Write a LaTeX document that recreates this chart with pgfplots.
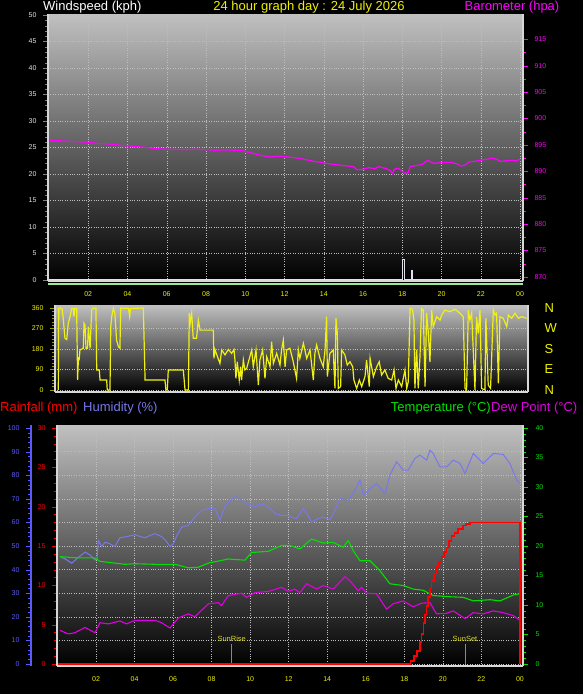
\documentclass[border=0pt]{standalone}
\usepackage{fontspec}
\setmainfont{Liberation Sans}
\usepackage{pgfplots}
\pgfplotsset{compat=1.18}
\definecolor{bgtop}{RGB}{192,192,192}
\definecolor{gridc}{RGB}{190,190,190}
\definecolor{framec}{RGB}{215,215,215}
\definecolor{hum}{RGB}{120,120,235}
\definecolor{humax}{RGB}{90,90,255}
\definecolor{tempc}{RGB}{0,225,0}
\definecolor{dewc}{RGB}{225,0,225}
\definecolor{baro}{RGB}{255,0,255}
\definecolor{ylw}{RGB}{240,240,0}
\definecolor{wdir}{RGB}{240,240,20}
\definecolor{lgreen}{RGB}{150,235,150}
\definecolor{sunc}{RGB}{215,215,40}
\definecolor{windc}{RGB}{225,225,235}
\newcommand{\tf}{\fontsize{7}{8}\selectfont}
\newcommand{\hf}{\fontsize{13}{15}\selectfont}
\pgfplotsset{
 base/.style={scale only axis, anchor=south west,
   axis line style={-, framec, line width=1.2pt},
   tick align=outside, major tick length=5pt, minor tick length=3pt,
   ticklabel style={font=\tf},
   /pgf/number format/assume math mode=true,
   /pgf/number format/1000 sep={}},
 shadebg/.style={axis background/.style={shade, top color=bgtop, bottom color=black}},
 grd/.style={major grid style={gridc, dotted, line width=0.5pt}},
}
\begin{document}
\begin{tikzpicture}[x=1pt,y=1pt]
\useasboundingbox (0,0) rectangle (583,-694);
\fill[black] (0,0) rectangle (583,-694);

% ---------------- top panel: wind speed + barometer
\begin{axis}[base, shadebg, grd, at={(48pt,-281pt)}, width=475pt, height=267pt,
  xmin=-0.05, xmax=24.15, ymin=-0.19, ymax=50.19,
  axis x line*=bottom, axis y line*=left,
  xtick={2,4,...,24}, xticklabels={02,04,06,08,10,12,14,16,18,20,22,00},
  xtick style={draw=none}, xticklabel style={ylw, yshift=-2pt},
  ytick={0,5,...,50}, minor y tick num=4, tick style={gray},
  yticklabel style={windc, xshift=-3pt},
  grid=major]
\addplot[const plot, windc, line width=1pt] coordinates {(0,0)(18.0,0)(18.0,3.8)(18.1,3.8)(18.1,0)(18.45,0)(18.45,1.8)(18.52,1.8)(18.52,0)(24,0)};
\end{axis}
\begin{axis}[base, at={(48pt,-281pt)}, width=475pt, height=267pt,
  xmin=-0.05, xmax=24.15, ymin=869.24, ymax=919.8,
  axis x line=none, axis y line*=right,
  ytick={870,875,...,915}, minor y tick num=1, tick style={baro},
  yticklabel style={baro, xshift=3pt}]
\addplot[baro, line width=1.2pt] coordinates {(0,895.9)(0.5,895.8)(1,895.7)(1.5,895.6)(2,895.5)(2.5,895.3)(3,895.2)(3.5,895.0)(4,894.8)(4.5,894.7)(5,894.5)(5.5,894.3)(6,894.2)(6.5,894.15)(7,894.1)(7.5,894.2)(8,894.1)(8.5,894.0)(9,894.05)(9.5,894.0)(9.8,894.0)(10.2,893.6)(10.6,893.2)(11,892.9)(11.3,892.7)(11.6,892.9)(12,892.8)(12.5,892.6)(13,892.3)(13.5,891.9)(14,891.6)(14.5,891.3)(15,891.1)(15.5,890.9)(15.7,890.3)(16.0,890.4)(16.3,890.7)(16.6,890.5)(16.8,890.9)(17.0,890.7)(17.2,890.5)(17.4,890.1)(17.5,889.6)(17.6,890.4)(17.8,890.6)(18.0,890.0)(18.2,889.6)(18.3,889.8)(18.4,890.9)(18.7,891.1)(19.0,891.3)(19.3,892.1)(19.6,891.5)(19.8,891.6)(20.1,891.7)(20.5,891.7)(20.8,891.4)(21.0,891.0)(21.2,891.2)(21.4,891.8)(21.7,891.9)(22.0,892.1)(22.3,892.3)(22.6,892.5)(22.8,892.3)(23.0,891.9)(23.3,892.0)(23.6,892.1)(23.8,892.0)(24.0,892.3)};
\end{axis}
\fill[lgreen] (48,-282.5) rectangle (523,-285);

% ---------------- middle panel: wind direction
\begin{axis}[base, shadebg, grd, at={(55pt,-392pt)}, width=473pt, height=87pt,
  xmin=-0.17, xmax=24.09, ymin=-8.8, ymax=373.2,
  axis x line*=bottom, axis y line*=left, xtick=\empty,
  ytick={0,90,...,360}, minor y tick num=5, tick style={ylw!65!black},
  yticklabel style={ylw, xshift=-3pt}, ymajorgrids]
\addplot[wdir, line width=1.2pt] coordinates {(0.00,0)(0.02,358)(0.10,360)(0.20,355)(0.26,307)(0.34,227)(0.43,222)(0.51,293)(0.60,322)(0.69,358)(0.78,358)(0.80,322)(0.85,358)(0.94,358)(0.99,44)(1.03,139)(1.07,135)(1.11,176)(1.28,183)(1.32,293)(1.37,285)(1.42,183)(1.50,183)(1.54,278)(1.63,183)(1.71,351)(1.80,360)(1.93,358)(1.97,88)(2.10,88)(2.14,44)(2.48,44)(2.51,0)(2.65,0)(2.69,278)(2.74,322)(2.82,358)(2.90,336)(2.99,219)(3.08,190)(3.16,183)(3.20,360)(3.60,358)(3.66,322)(3.70,358)(4.36,360)(4.45,44)(5.47,44)(5.52,0)(5.59,0)(5.64,88)(6.41,88)(6.50,0)(6.67,0)(6.72,337)(6.76,293)(6.84,337)(6.92,227)(7.09,227)(7.18,307)(7.27,263)(7.95,263)(7.98,139)(8.04,176)(8.21,135)(8.29,117)(8.38,176)(8.55,154)(8.72,178)(8.89,161)(9.01,178)(9.06,132)(9.11,51)(9.18,124)(9.28,44)(9.35,102)(9.40,44)(9.49,132)(9.57,88)(9.66,95)(9.80,139)(9.92,176)(10.00,102)(10.14,176)(10.26,22)(10.34,132)(10.48,176)(10.60,51)(10.69,146)(10.86,102)(10.94,212)(11.03,117)(11.20,161)(11.37,110)(11.45,176)(11.54,219)(11.63,102)(11.71,176)(11.88,183)(12.05,124)(12.22,51)(12.31,176)(12.39,139)(12.57,205)(12.74,139)(12.91,176)(13.08,44)(13.16,161)(13.25,198)(13.42,139)(13.59,102)(13.68,176)(13.76,322)(13.80,59)(13.93,161)(14.10,176)(14.19,7)(14.24,315)(14.31,249)(14.36,7)(14.48,15)(14.53,176)(14.70,154)(14.82,110)(14.96,124)(15.10,102)(15.16,44)(15.30,7)(15.44,44)(15.56,15)(15.73,59)(15.81,132)(15.95,15)(15.99,139)(16.16,59)(16.33,102)(16.46,124)(16.58,66)(16.75,88)(16.92,51)(17.10,44)(17.22,88)(17.32,7)(17.44,44)(17.61,15)(17.78,88)(17.87,7)(17.95,37)(18.04,358)(18.12,358)(18.17,351)(18.24,307)(18.29,7)(18.38,176)(18.46,7)(18.55,146)(18.63,358)(18.72,351)(18.81,15)(18.89,337)(18.98,249)(19.06,124)(19.15,351)(19.23,278)(19.40,322)(19.58,307)(19.66,329)(19.83,351)(20.09,344)(20.34,355)(20.60,337)(20.77,322)(20.86,7)(20.94,0)(21.03,351)(21.11,307)(21.20,337)(21.37,0)(21.45,322)(21.54,249)(21.63,351)(21.71,7)(21.88,0)(21.93,315)(22.05,22)(22.17,7)(22.31,351)(22.40,329)(22.48,337)(22.57,29)(22.65,322)(22.82,315)(23.00,278)(23.08,329)(23.25,315)(23.42,337)(23.60,315)(23.76,322)(24.02,315)};
\end{axis}
\begin{axis}[base, at={(55pt,-392pt)}, width=473pt, height=87pt,
  xmin=-0.17, xmax=24.09, ymin=-8.8, ymax=373.2,
  axis x line=none, axis y line*=right,
  ytick={0,90,180,270,360}, yticklabels={N,E,S,W,N}, tick style={draw=none},
  yticklabel style={ylw, font=\hf, xshift=8pt}]
\end{axis}

% ---------------- bottom panel
\begin{axis}[base, shadebg, grd, at={(57pt,-666pt)}, width=466pt, height=241pt,
  xmin=-0.026, xmax=24.16, ymin=-0.85, ymax=101.27,
  axis x line*=bottom, axis y line*=left,
  xtick={2,4,...,24}, xticklabels={02,04,06,08,10,12,14,16,18,20,22,00},
  xtick style={draw=none}, xticklabel style={ylw, yshift=-2pt},
  ytick={0,10,...,100}, yticklabels={}, ytick style={draw=none},
  grid=major]
\addplot[hum, line width=1pt] coordinates {(0.13,45.5)(0.4,44.5)(0.74,42.7)(1.08,45.2)(1.43,47.4)(1.69,46.2)(1.95,44.1)(2.05,44.5)(2.12,52.3)(2.3,49.8)(2.47,51.6)(2.7,51.0)(2.98,49.8)(3.24,53.5)(3.6,54.0)(4.02,54.8)(4.3,54.0)(4.54,53.5)(4.8,54.5)(5.06,55.2)(5.4,54.0)(5.6,52.5)(5.84,49.8)(6.01,50.9)(6.2,54.5)(6.44,58.0)(6.79,58.7)(7.13,62.3)(7.48,65.1)(7.83,65.8)(8.17,65.8)(8.3,63.5)(8.43,60.9)(8.69,66.8)(9.0,69.5)(9.21,70.8)(9.38,70.5)(9.73,68.0)(10.0,67.5)(10.25,66.5)(10.5,67.8)(10.77,67.2)(11.0,66.0)(11.29,63.7)(11.63,63.0)(11.98,63.0)(12.2,62.0)(12.41,61.6)(12.76,65.8)(13.0,63.0)(13.19,60.1)(13.5,61.5)(13.79,62.3)(14.14,61.1)(14.4,65.0)(14.66,70.1)(15.09,69.4)(15.44,73.6)(15.70,77.9)(15.87,71.5)(16.13,73.6)(16.56,76.5)(17.0,72.2)(17.25,80.0)(17.60,85.7)(17.95,82.1)(18.2,82.1)(18.55,87.1)(18.81,88.5)(19.16,86.4)(19.33,90.6)(19.5,89.2)(19.85,83.5)(20.2,83.5)(20.54,86.4)(20.89,85.0)(21.15,80.7)(21.58,89.2)(22.1,85.0)(22.62,89.2)(23.13,88.8)(23.48,85.0)(23.83,77.9)(24.0,76.5)};
\addplot[sunc!70!black, line width=0.8pt] coordinates {(9.04,0)(9.04,8.5)};
\addplot[sunc!70!black, line width=0.8pt] coordinates {(21.15,0)(21.15,8.5)};
\node[sunc, font=\fontsize{7.5}{8}\selectfont] at (axis cs:9.04,10.8) {SunRise};
\node[sunc, font=\fontsize{7.5}{8}\selectfont] at (axis cs:21.15,10.8) {SunSet};
\end{axis}
\begin{axis}[base, at={(57pt,-666pt)}, width=466pt, height=241pt,
  xmin=-0.026, xmax=24.16, ymin=-0.339, ymax=40.51,
  axis x line=none, axis y line*=right,
  ytick={0,5,...,40}, minor y tick num=4, tick style={tempc},
  yticklabel style={tempc, xshift=4pt}]
\addplot[tempc, line width=1.1pt] coordinates {(0.13,18.2)(1.0,18.0)(1.95,18.0)(2.2,17.4)(2.98,17.1)(3.5,16.9)(4.0,17.0)(5.06,16.9)(6.1,16.9)(6.79,16.3)(7.3,16.4)(7.83,17.1)(8.86,17.8)(9.73,17.6)(10.07,18.9)(10.94,19.1)(11.63,20.1)(12.06,20.1)(12.58,19.5)(13.19,21.2)(13.79,20.5)(14.31,20.6)(14.83,19.8)(15.09,20.9)(15.35,19.2)(15.70,17.5)(16.22,17.5)(16.74,15.8)(17.25,13.6)(17.95,13.3)(18.46,12.7)(18.98,12.5)(19.5,11.6)(20.37,11.4)(21.06,11.3)(21.58,10.7)(22.45,10.9)(22.97,10.7)(23.66,11.7)(24.0,11.9)};
\addplot[dewc, line width=1.1pt] coordinates {(0.13,5.7)(0.56,5.1)(0.9,5.3)(1.43,6.2)(1.95,5.3)(2.2,7.0)(2.64,6.8)(3.24,7.3)(3.58,6.8)(4.02,7.4)(5.06,7.4)(5.4,7.0)(5.84,6.1)(6.27,7.8)(6.79,8.5)(7.13,8.0)(7.83,10.2)(8.34,10.4)(8.52,9.9)(8.86,11.6)(9.55,12.0)(9.81,11.3)(10.25,12.1)(10.94,12.3)(11.63,13.0)(11.98,12.3)(12.3,12.7)(12.58,12.1)(12.93,13.6)(13.45,12.7)(13.79,13.3)(14.31,12.7)(14.92,14.8)(15.18,14.1)(15.61,12.4)(15.78,13.0)(16.04,12.0)(16.56,11.9)(17.08,9.3)(17.42,10.2)(17.95,10.7)(18.46,9.7)(18.89,10.3)(19.33,10.4)(19.67,8.5)(20.2,8.6)(20.54,9.0)(21.15,7.7)(21.58,8.7)(22.1,8.5)(22.62,9.0)(23.13,8.7)(23.66,8.2)(24.0,7.4)};
\end{axis}
\begin{axis}[base, at={(57pt,-666pt)}, width=466pt, height=241pt,
  xmin=-0.026, xmax=24.16, ymin=-0.254, ymax=30.38,
  axis x line=none, axis y line*=left,
  ytick={0,5,...,30}, minor y tick num=4, tick style={red},
  yticklabel style={red, xshift=-3pt}]
\addplot[const plot, red, line width=1.8pt] coordinates {(0,0)(18.15,0)(18.32,0.4)(18.5,1.0)(18.67,1.7)(18.8,2.8)(18.89,3.8)(19.0,5.2)(19.07,6.3)(19.15,7.4)(19.24,8.5)(19.33,9.6)(19.41,10.6)(19.55,11.5)(19.67,12.3)(19.8,13.0)(19.93,13.6)(20.06,14.2)(20.19,14.8)(20.32,15.6)(20.45,16.3)(20.6,16.7)(20.8,17.2)(21.06,17.6)(21.2,17.8)(21.4,18.0)(23.95,18.0)(24.0,0)};
\end{axis}
\begin{axis}[base, at={(31pt,-666pt)}, width=1pt, height=241pt,
  xmin=0, xmax=1, ymin=-0.85, ymax=101.27,
  axis x line=none, axis y line*=left,
  axis line style={-, humax, line width=1.5pt},
  ytick={0,10,...,100}, minor y tick num=4, tick style={humax},
  yticklabel style={humax, xshift=-3pt}]
\end{axis}

% ---------------- titles
\node[white, font=\hf, anchor=west, inner sep=0] at (43,-7) {Windspeed (kph)};
\node[ylw, font=\hf, inner sep=0] at (309,-7) {24 hour graph day : 24 July 2026};
\node[baro, font=\hf, inner sep=0] at (512,-7) {Barometer (hpa)};
\node[red, font=\hf, anchor=west, inner sep=0] at (0,-408) {Rainfall (mm)};
\node[hum, font=\hf, anchor=west, inner sep=0] at (83,-408) {Humidity (\%)};
\node[tempc, font=\hf, anchor=east, inner sep=0] at (491,-408) {Temperature (°C)};
\node[dewc, font=\hf, anchor=west, inner sep=0] at (491,-408) {Dew Point (°C)};
\end{tikzpicture}
\end{document}
